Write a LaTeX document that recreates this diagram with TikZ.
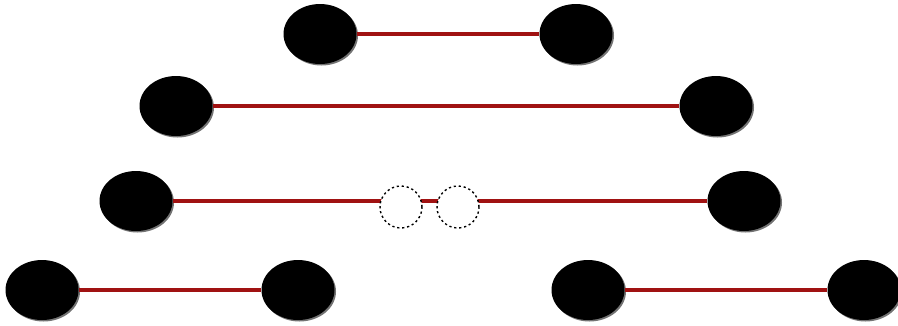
\documentclass[tikz,border=0pt]{standalone}
\usetikzlibrary{shapes.geometric,shadows}
\definecolor{linkred}{RGB}{160,18,18}
\tikzset{
  blob/.style={ellipse, fill=black, minimum width=73pt, minimum height=60pt, inner sep=0pt,
    drop shadow={shadow xshift=1.5pt, shadow yshift=-1.5pt, fill=black!55, opacity=1}},
  link/.style={draw=linkred, line width=3.6pt},
  ghost/.style={circle, draw=black, dash pattern=on 2.2pt off 2.8pt, line width=1.4pt, fill=white, minimum size=42pt, inner sep=0pt}
}
\begin{document}
\begin{tikzpicture}[x=1pt,y=-1pt]
\useasboundingbox (0,0) rectangle (898,325);
\clip (0,0) rectangle (898,325);
% row 1
\node[blob] (a1) at (320,34) {};
\node[blob] (b1) at (576,34) {};
% row 2
\node[blob] (a2) at (176,106) {};
\node[blob] (b2) at (716,106) {};
% row 3
\node[blob] (a3) at (136,201) {};
\node[blob] (b3) at (744,201) {};
% row 4
\node[blob] (a4) at (42,290) {};
\node[blob] (b4) at (298,290) {};
\node[blob] (c4) at (588,290) {};
\node[blob] (d4) at (864,290) {};
\draw[link] (a1.east) -- (b1.west);
\draw[link] (a2.east) -- (b2.west);
\draw[link] (a3.east) -- (b3.west);
\draw[link] (a4.east) -- (b4.west);
\draw[link] (c4.east) -- (d4.west);
\node[ghost] (g1) at (401,207) {};
\node[ghost] (g2) at (458,207) {};
\end{tikzpicture}
\end{document}
